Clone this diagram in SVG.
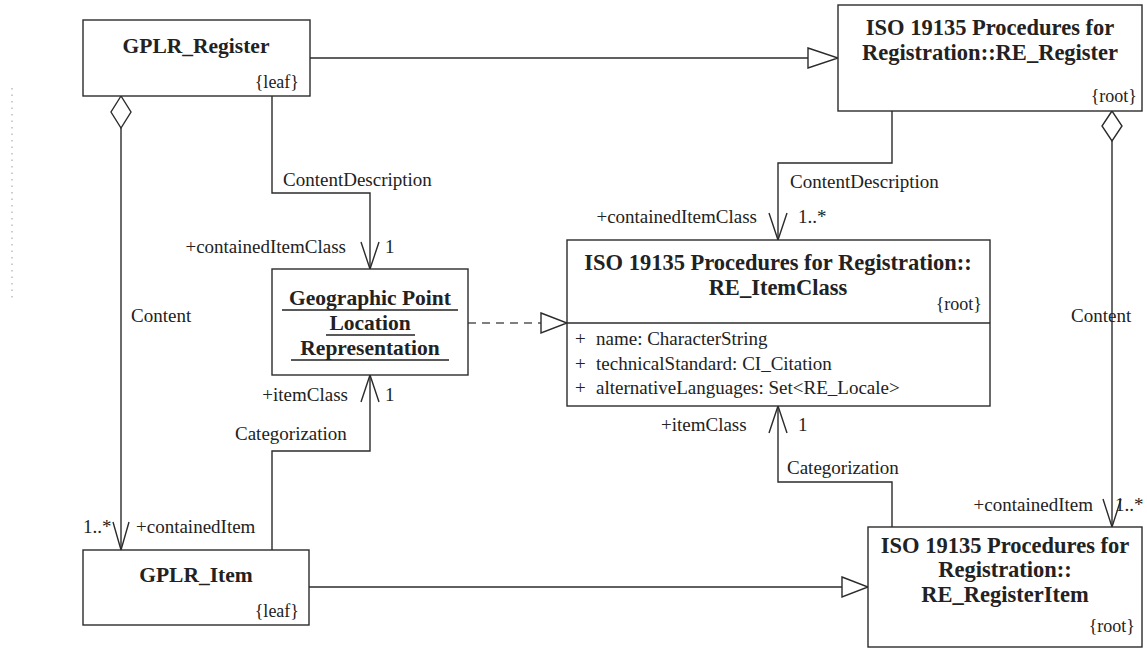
<svg xmlns="http://www.w3.org/2000/svg" width="1147" height="648" viewBox="0 0 1147 648">
  <style>
    .box { fill: #ffffff; stroke: #2b2b2b; stroke-width: 1.4; }
    .ln { fill: none; stroke: #2b2b2b; stroke-width: 1.4; }
    .dash { fill: none; stroke: #555555; stroke-width: 1.4; stroke-dasharray: 8 6; }
    .head { fill: #ffffff; stroke: #2b2b2b; stroke-width: 1.4; }
    .title { font-family: "Liberation Serif", "DejaVu Serif", serif; font-weight: bold; font-size: 21.5px; fill: #222222; text-anchor: middle; }
    .iso { font-size: 22.5px; }
    .lbl { font-family: "Liberation Serif", "DejaVu Serif", serif; font-size: 19px; fill: #222222; }
    .tag { font-family: "Liberation Serif", "DejaVu Serif", serif; font-size: 18px; fill: #222222; text-anchor: end; }
    .end { text-anchor: end; }
    .ul { stroke: #222222; stroke-width: 1.3; }
  </style>

  <!-- faint dotted margin mark -->
  <line x1="12" y1="88" x2="12" y2="298" stroke="#bdbdbd" stroke-width="1.5" stroke-dasharray="1.5 5"/>

  <!-- connectors -->
  <g id="connectors">
    <!-- GPLR_Register generalizes RE_Register -->
    <polyline class="ln" points="310,58 808,58"/>
    <polygon class="head" points="808,48 838,58 808,68"/>

    <!-- GPLR_Item generalizes RE_RegisterItem -->
    <polyline class="ln" points="309,587 842,587"/>
    <polygon class="head" points="842,577 868,587 842,597"/>

    <!-- Geographic Point Location Representation realizes RE_ItemClass -->
    <polyline class="dash" points="468,323 541,323"/>
    <polygon class="head" points="541,313 567,323 541,333"/>

    <!-- Content (left): aggregation GPLR_Register -> GPLR_Item -->
    <polygon class="head" points="121,96 111,112 121,128 131,112"/>
    <polyline class="ln" points="121,128 121,550"/>
    <polyline class="ln" points="113,522 121,550 129,522"/>

    <!-- Content (right): aggregation RE_Register -> RE_RegisterItem -->
    <polygon class="head" points="1112,111 1102,126 1112,141 1122,126"/>
    <polyline class="ln" points="1112,141 1112,527"/>
    <polyline class="ln" points="1103,499 1112,527 1121,499"/>

    <!-- ContentDescription (left) -->
    <polyline class="ln" points="272,96 272,193 370,193 370,269"/>
    <polyline class="ln" points="361,242 370,269 379,242"/>

    <!-- ContentDescription (right) -->
    <polyline class="ln" points="892,111 892,163 778,163 778,240"/>
    <polyline class="ln" points="769,213 778,240 787,213"/>

    <!-- Categorization (left) -->
    <polyline class="ln" points="272,550 272,451 370,451 370,375"/>
    <polyline class="ln" points="361,402 370,375 379,402"/>

    <!-- Categorization (right) -->
    <polyline class="ln" points="892,527 892,482 778,482 778,406"/>
    <polyline class="ln" points="769,433 778,406 787,433"/>
  </g>

  <!-- connector labels -->
  <g id="labels">
    <text class="lbl" x="283" y="186">ContentDescription</text>
    <text class="lbl end" x="346" y="253">+containedItemClass</text>
    <text class="lbl" x="385" y="253">1</text>

    <text class="lbl" x="790" y="188">ContentDescription</text>
    <text class="lbl end" x="757" y="223">+containedItemClass</text>
    <text class="lbl" x="798" y="223">1..*</text>

    <text class="lbl end" x="348" y="401">+itemClass</text>
    <text class="lbl" x="385" y="401">1</text>
    <text class="lbl" x="235" y="440">Categorization</text>

    <text class="lbl" x="661" y="431">+itemClass</text>
    <text class="lbl" x="798" y="431">1</text>
    <text class="lbl" x="787" y="474">Categorization</text>

    <text class="lbl" x="131" y="322">Content</text>
    <text class="lbl" x="83" y="533">1..*</text>
    <text class="lbl" x="136" y="533">+containedItem</text>

    <text class="lbl" x="1071" y="322">Content</text>
    <text class="lbl end" x="1093" y="511">+containedItem</text>
    <text class="lbl" x="1115" y="511">1..*</text>
  </g>

  <!-- nodes -->
  <g id="gplr-register">
    <rect class="box" x="83" y="20" width="227" height="76"/>
    <text class="title" x="196" y="53">GPLR_Register</text>
    <text class="tag" x="299" y="88">{leaf}</text>
  </g>

  <g id="re-register">
    <rect class="box" x="838" y="5" width="304" height="106"/>
    <text class="title iso" x="990" y="35">ISO 19135 Procedures for</text>
    <text class="title iso" x="990" y="60">Registration::RE_Register</text>
    <text class="tag" x="1137" y="102">{root}</text>
  </g>

  <g id="geographic-point-location-representation">
    <rect class="box" x="272" y="269" width="196" height="106"/>
    <text class="title" x="370" y="305">Geographic Point</text>
    <text class="title" x="370" y="330">Location</text>
    <text class="title" x="370" y="355">Representation</text>
    <line class="ul" x1="282" y1="310" x2="458" y2="310"/>
    <line class="ul" x1="326" y1="335" x2="415" y2="335"/>
    <line class="ul" x1="291" y1="360" x2="449" y2="360"/>
  </g>

  <g id="re-itemclass">
    <rect class="box" x="567" y="240" width="423" height="166"/>
    <line class="ln" x1="567" y1="323" x2="990" y2="323"/>
    <text class="title iso" x="778" y="270">ISO 19135 Procedures for Registration::</text>
    <text class="title iso" x="778" y="295">RE_ItemClass</text>
    <text class="tag" x="982" y="310">{root}</text>
    <text class="lbl" x="575" y="345">+</text>
    <text class="lbl" x="596" y="345">name: CharacterString</text>
    <text class="lbl" x="575" y="370">+</text>
    <text class="lbl" x="596" y="370">technicalStandard: CI_Citation</text>
    <text class="lbl" x="575" y="394">+</text>
    <text class="lbl" x="596" y="394">alternativeLanguages: Set&lt;RE_Locale&gt;</text>
  </g>

  <g id="gplr-item">
    <rect class="box" x="83" y="550" width="226" height="75"/>
    <text class="title" x="196" y="582">GPLR_Item</text>
    <text class="tag" x="299" y="617">{leaf}</text>
  </g>

  <g id="re-registeritem">
    <rect class="box" x="868" y="527" width="274" height="120"/>
    <text class="title iso" x="1005" y="553">ISO 19135 Procedures for</text>
    <text class="title iso" x="1005" y="577">Registration::</text>
    <text class="title iso" x="1005" y="602">RE_RegisterItem</text>
    <text class="tag" x="1135" y="632">{root}</text>
  </g>
</svg>
